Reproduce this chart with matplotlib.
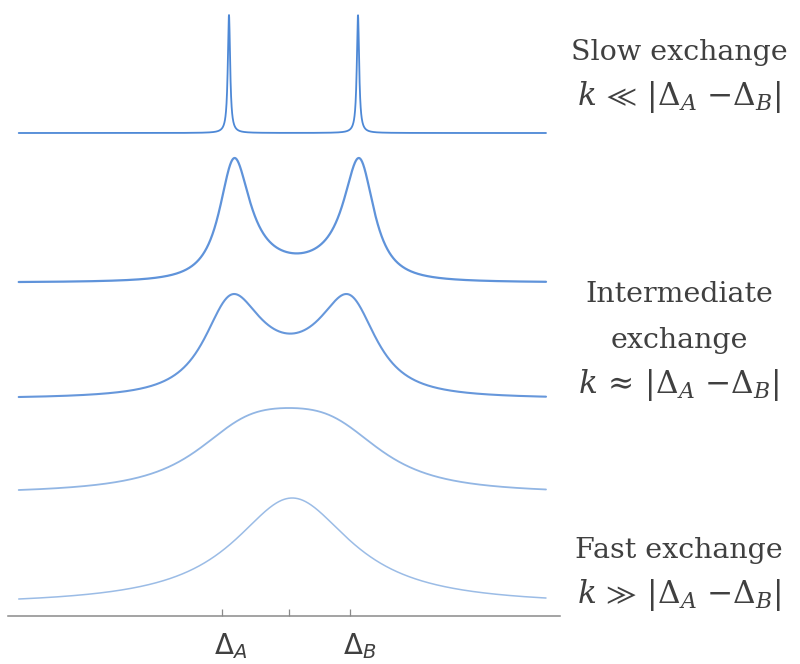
"""Two-site chemical exchange: NMR line shapes from slow to fast exchange."""
import matplotlib
matplotlib.use("Agg")
import matplotlib.pyplot as plt
import numpy as np
from matplotlib.transforms import ScaledTranslation

# exchange rate k and intrinsic relaxation R2 for each trace (units of the
# half-separation of the two sites), top trace first
rates = [0.0, 0.16, 0.27, 0.56, 2.0]
r2 = [0.022, 0.13, 0.28, 0.60, 0.85]
centre_shift = [0.0, 0.05, -0.05, -0.07, -0.02]
freq_lo, freq_hi = -4.26, 3.915

tick_pos = [-1.11, -0.07, 0.88]
tick_labels = [r"$\Delta_A$", "", r"$\Delta_B$"]

regime_lines = [
    ["Slow exchange", r"$k\,\ll\,|\Delta_A\ {-}\Delta_B|$"],
    ["Intermediate", "exchange", r"$k\,\approx\,|\Delta_A\ {-}\Delta_B|$"],
    ["Fast exchange", r"$k\,\gg\,|\Delta_A\ {-}\Delta_B|$"],
]

# vertical layout (pixels above the axis line): baseline and peak height
offsets = [483, 334, 219, 126, 17]
heights = [118, 124, 103, 82, 101]
colors = ["#4d88d6", "#5f93da", "#6697db", "#92b6e4", "#9bbce6"]
widths = [1.3, 1.6, 1.5, 1.3, 1.1]


def lineshape(w, k, r):
    # equal populations, sites at -1 and +1
    c = r + k - 1j * w
    return np.real((c + k) / (c * c + 1 - k * k))


plt.rcParams["mathtext.fontset"] = "dejavuserif"
fig = plt.figure(figsize=(8, 6.64), dpi=100)
ax = fig.add_axes([8 / 800, 48 / 664, 552 / 800, 616 / 664])

w = np.linspace(freq_lo, freq_hi, 3000)
for k, r, s, off, h, col, lw in zip(rates, r2, centre_shift, offsets,
                                     heights, colors, widths):
    spec = lineshape(w - s, k, r)
    spec = (spec - spec.min()) / (spec.max() - spec.min())
    ax.plot(w, off + h * spec, color=col, lw=lw, solid_capstyle="round")

ax.set_xlim(-4.426, 4.132)
ax.set_ylim(0, 616)
for side in ("left", "right", "top"):
    ax.spines[side].set_visible(False)
ax.spines["bottom"].set_color("#8a8a8a")
ax.spines["bottom"].set_linewidth(1.1)
ax.set_yticks([])
ax.set_xticks(tick_pos)
ax.set_xticklabels(tick_labels)
ax.tick_params(axis="x", direction="in", length=5, width=0.9, color="#8a8a8a",
               pad=11, labelsize=20, labelcolor="#404040")
for lbl in ax.get_xticklabels():
    lbl.set_fontfamily("DejaVu Sans")
    lbl.set_math_fontfamily("dejavusans")
shift = ScaledTranslation(0.09, 0, fig.dpi_scale_trans)
for lbl in ax.get_xticklabels():
    lbl.set_transform(lbl.get_transform() + shift)

line_y = [[52, 97], [295, 340, 385], [550, 595]]
for lines, ys in zip(regime_lines, line_y):
    for txt, y in zip(lines, ys):
        size = 22.5 if txt.startswith("$") else 20.5
        fig.text(679 / 800, 1 - y / 664, txt, ha="center", va="center",
                 fontsize=size, family="DejaVu Serif", color="#404040")

fig.savefig("out.png", dpi=100)
